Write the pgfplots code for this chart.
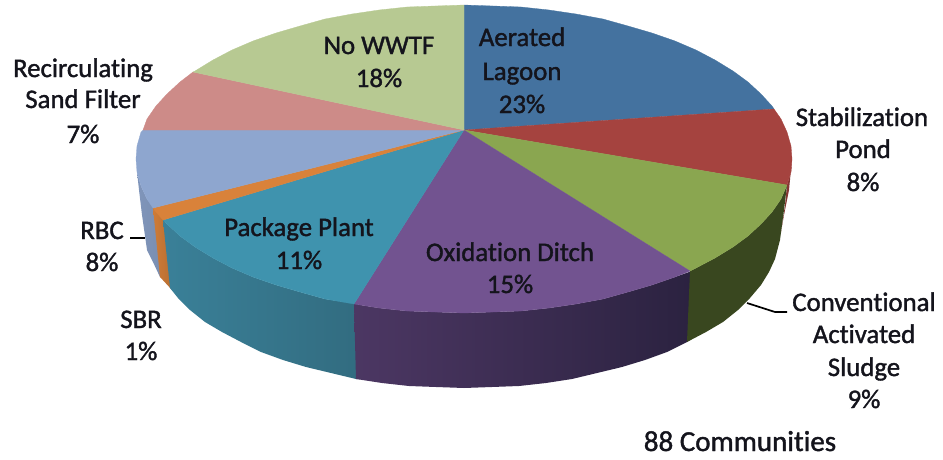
\documentclass[border=0pt]{standalone}
\usepackage{fontspec}
\setmainfont[Ligatures=NoCommon]{Carlito}
\newfontfamily\lblfont[Ligatures=NoCommon,FakeBold=1.4]{Carlito}
\usepackage{pgfplots}
\pgfplotsset{compat=1.18}
\definecolor{cBlue}{HTML}{44729F}
\definecolor{cRed}{HTML}{A5433F}
\definecolor{cGreen}{HTML}{8AA650}
\definecolor{cPurple}{HTML}{725390}
\definecolor{cTeal}{HTML}{3F93AE}
\definecolor{cOrange}{HTML}{D9823A}
\definecolor{cLilac}{HTML}{8EA6CF}
\definecolor{cPink}{HTML}{CD8B88}
\definecolor{cLight}{HTML}{B7C992}
\definecolor{cTxt}{HTML}{14141C}
\definecolor{sTealA}{HTML}{3A8098}
\definecolor{sTealB}{HTML}{326C80}
\definecolor{sPurA}{HTML}{4C3763}
\definecolor{sPurB}{HTML}{2B2240}
\definecolor{sGreen}{HTML}{39471F}
\tikzset{lbl/.style={font=\lblfont\fontsize{26.8}{30}\selectfont, text=cTxt, anchor=base, inner sep=0pt}}
\begin{document}
\begin{tikzpicture}
\begin{axis}[
  hide axis, scale only axis, width=943pt, height=459pt,
  xmin=0, xmax=943, ymin=0, ymax=459, y dir=reverse, clip=false]
% keeps the page as large as the axis
\addplot[draw=none, forget plot] coordinates {(0,0)(943,459)};
% side walls
\addplot[draw=none, fill=cRed!80!black] coordinates {(792,159)(791,172)(787,185)(785,205)(781,232)(784,215)(789,190)} --cycle;
\addplot[draw=none, left color=cLilac!90!black, right color=cLilac!85!black] coordinates {(155,208)(147,199)(141,186)(137,172)(139,190)(142,215)(147,250)(153,262)(160,277)(163,277)} --cycle;
\addplot[draw=none, left color=cOrange!95!black, right color=cOrange!85!black] coordinates {(153,208)(165,220)(172,290)(160,277)} --cycle;
\addplot[draw=none, left color=sTealA, right color=sTealB] coordinates {(358,304)(325,299)(300,292)(276,285)(253,277)(232,268)(213,258)(195,247)(180,236)(167,224)(163,220)(170,288)(178,298)(190,310)(205,322)(222,332)(241,342)(261,352)(283,360)(306,367)(331,373)(356,379)(360,379)} --cycle;
\addplot[draw=none, left color=sPurA, right color=sPurB] coordinates {(692,271)(675,277)(652,285)(628,292)(603,299)(576,304)(549,308)(521,311)(493,312)(464,313)(435,312)(407,311)(379,308)(354,304)(356,379)(382,383)(409,386)(436,387)(464,388)(492,387)(519,386)(546,383)(572,379)(597,373)(622,367)(645,360)(667,352)(687,342)(690,340)} --cycle;
\addplot[draw=none, fill=sGreen] coordinates {(787,185)(781,199)(772,212)(761,224)(748,236)(733,247)(715,258)(696,268)(690,271)(687,342)(706,332)(723,322)(738,310)(750,298)(761,285)(769,272)(775,259)(780,240)(784,210)} --cycle;
% top slices
\addplot[draw=cBlue, line width=.3pt, fill=cBlue] coordinates {(464,130)(464,5)(493,6)(521,7)(549,10)(576,14)(603,19)(628,26)(652,33)(675,41)(696,50)(715,60)(733,71)(748,82)(761,94)(772,106)(774,109)} --cycle;
\addplot[draw=cRed, line width=.3pt, fill=cRed] coordinates {(464,130)(774,109)(781,119)(787,132)(791,146)(792,159)(791,172)(787,185)} --cycle;
\addplot[draw=cGreen, line width=.3pt, fill=cGreen] coordinates {(464,130)(787,185)(781,199)(772,212)(761,224)(748,236)(733,247)(715,258)(696,268)(690,271)} --cycle;
\addplot[draw=cPurple, line width=.3pt, fill=cPurple] coordinates {(464,130)(690,271)(675,277)(652,285)(628,292)(603,299)(576,304)(549,308)(521,311)(493,312)(464,313)(435,312)(407,311)(379,308)(354,304)} --cycle;
\addplot[draw=cTeal, line width=.3pt, fill=cTeal] coordinates {(464,130)(354,304)(325,299)(300,292)(276,285)(253,277)(232,268)(213,258)(195,247)(180,236)(167,224)(163,220)} --cycle;
\addplot[draw=cOrange, line width=.3pt, fill=cOrange] coordinates {(464,130)(163,220)(156,212)(153,208)} --cycle;
\addplot[draw=cLilac, line width=.3pt, fill=cLilac] coordinates {(464,130)(153,208)(147,199)(141,186)(137,172)(136,159)(137,146)(141,132)(143,130)} --cycle;
\addplot[draw=cPink, line width=.3pt, fill=cPink] coordinates {(464,130)(143,130)(147,119)(156,106)(167,94)(180,82)(193,72)} --cycle;
\addplot[draw=cLight, line width=.3pt, fill=cLight] coordinates {(464,130)(193,72)(195,71)(213,60)(232,50)(253,41)(276,33)(300,26)(325,19)(352,14)(379,10)(407,7)(435,6)(464,5)} --cycle;
% leaders
\addplot[draw=black, line width=1.7pt] coordinates {(130,238)(145,238)};
\addplot[draw=black, line width=1.7pt] coordinates {(747,303)(775,312)(787,312)};
% labels
\node[lbl] at (axis cs:522,46) {Aerated};
\node[lbl] at (axis cs:522,80) {Lagoon};
\node[lbl] at (axis cs:522,113) {23\%};
\node[lbl] at (axis cs:379,54) {No WWTF};
\node[lbl] at (axis cs:379,87) {18\%};
\node[lbl] at (axis cs:83,77) {Recirculating};
\node[lbl] at (axis cs:83,108) {Sand Filter};
\node[lbl] at (axis cs:83,143) {7\%};
\node[lbl] at (axis cs:862,126) {Stabilization};
\node[lbl] at (axis cs:863,158) {Pond};
\node[lbl] at (axis cs:863,191) {8\%};
\node[lbl] at (axis cs:299,236) {Package Plant};
\node[lbl] at (axis cs:299,269) {11\%};
\node[lbl] at (axis cs:510,261) {Oxidation Ditch};
\node[lbl] at (axis cs:510,293) {15\%};
\node[lbl] at (axis cs:102,239) {RBC};
\node[lbl] at (axis cs:102,271) {8\%};
\node[lbl] at (axis cs:141,328) {SBR};
\node[lbl] at (axis cs:141,360) {1\%};
\node[lbl] at (axis cs:864,311) {Conventional};
\node[lbl] at (axis cs:864,343) {Activated};
\node[lbl] at (axis cs:864,376) {Sludge};
\node[lbl] at (axis cs:864,408) {9\%};
\node[lbl,font=\lblfont\fontsize{29}{32}\selectfont] at (axis cs:740,451) {88 Communities};
\end{axis}
\end{tikzpicture}
\end{document}
